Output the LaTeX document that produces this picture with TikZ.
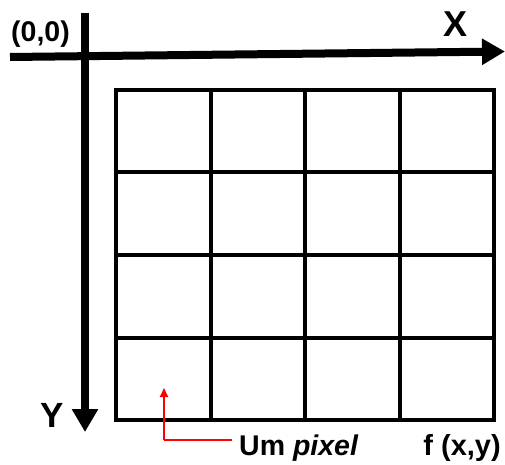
\documentclass[tikz,border=0pt]{standalone}
\usepackage{fontspec}
\setmainfont{Liberation Sans}
\usetikzlibrary{arrows.meta}
\begin{document}
\begin{tikzpicture}[x=1pt,y=1pt,
  axis/.style={line width=8pt,-{Triangle[length=23pt,width=25pt]}},
  gridline/.style={line width=4pt,line cap=rect},
  redarrow/.style={red,line width=2pt,-{Triangle[length=9pt,width=8pt]}},
  lbl/.style={inner sep=0pt}]
\useasboundingbox (0,0) rectangle (505,464);
% grid
\foreach \i in {0,...,4} {
  \draw[gridline] ({116+94.5*\i},44) -- ({116+94.5*\i},374);
  \draw[gridline] (116,{44+82.5*\i}) -- (494,{44+82.5*\i});
}
% axes
\coordinate (xs) at (10,407);
\coordinate (xe) at (505,412.5);
\coordinate (ys) at (85,451);
\coordinate (ye) at (85,32);
\draw[axis] (xs) -- (xe);
\draw[axis] (ys) -- (ye);
% labels
\node[lbl,anchor=base west,font=\fontsize{28.5}{31}\selectfont\bfseries] (o) at (11,422) {(0,0)};
\node[lbl,anchor=base west,font=\fontsize{36}{39}\selectfont\bfseries] (X) at (443,427) {X};
\node[lbl,anchor=base west,font=\fontsize{35}{38}\selectfont\bfseries] (Y) at (40,37) {Y};
\node[lbl,anchor=base west,font=\fontsize{28.5}{31}\selectfont\bfseries] (um) at (239,9) {Um \textit{pixel}};
\node[lbl,anchor=base east,font=\fontsize{29}{32}\selectfont\bfseries] (f) at (501,9) {f (x,y)};
% red arrow
\coordinate (rc) at (164,24);
\coordinate (rt) at (164,76);
\draw[red,line width=2pt] (um.west |- rc) ++(-7,0) -- (rc);
\draw[redarrow] (rc) -- (rt);
\end{tikzpicture}
\end{document}
